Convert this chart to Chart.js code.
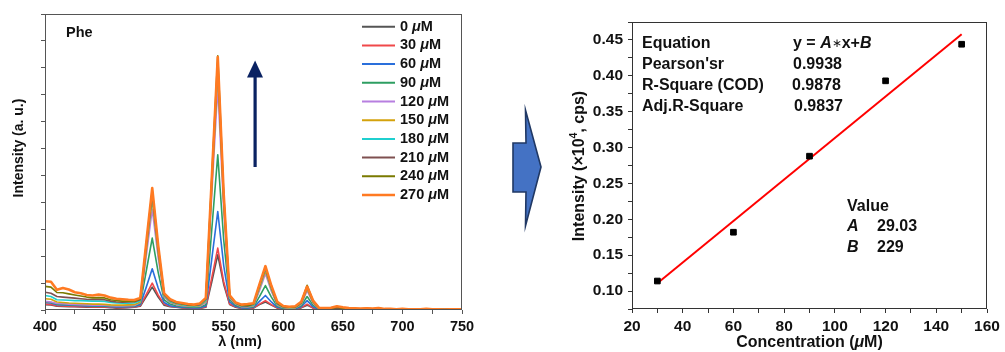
<!DOCTYPE html>
<html><head><meta charset="utf-8">
<script src="https://cdn.jsdelivr.net/npm/chart.js@4"></script>
<style>
html,body{margin:0;padding:0;background:#fff;width:1005px;height:352px;overflow:hidden}
#left{position:absolute;left:0;top:0;width:480px;height:352px}
#right{position:absolute;left:540px;top:0;width:465px;height:352px}
#blk{position:absolute;left:500px;top:100px}
</style></head><body>
<div id="left"><canvas id="c1"></canvas></div>
<canvas id="blk" width="50" height="140"></canvas>
<div id="right"><canvas id="c2"></canvas></div>
<script>
// ---------- DATA: left spectra ----------
const wavelengths = [400,405,410,415,420,425,430,435,440,445,450,455,460,465,470,475,480,
 485,490,495,500,505,510,515,520,525,530,535,540,545,550,555,560,565,570,575,580,585,590,595,600,
 605,610,615,620,625,630,635,640,645,650,655,660,665,670,675,680,685,690,695,700,705,710,715,720,
 725,730,735,740,745,750];
const concLabels = ['0','30','60','90','120','150','180','210','240','270'];
const s0 = [0.20,0.19,0.14,0.13,0.12,0.12,0.11,0.10,0.10,0.11,0.10,0.09,0.07,0.08,0.09,0.10,0.14,
 0.50,0.85,0.48,0.18,0.12,0.10,0.08,0.07,0.06,0.06,
 0.10,1.05,2.05,0.95,0.20,0.10,
 0.06,0.05,0.07,0.20,0.30,0.18,0.07,0.04,
 0.03,0.03,0.08,0.18,0.07,0.02,
 0.02,0.02,0.03,0.02,0.02,0.02,0.02,0.02,0.02,0.02,0.01,0.02,0.02,0.01,0.02,0.01,0.01,0.02,0.01,0.01,0.01,0.01,0.01,0.01];
const s30 = [0.22,0.21,0.16,0.15,0.14,0.13,0.12,0.12,0.11,0.12,0.11,0.10,0.09,0.09,0.10,0.11,0.16,
 0.58,1.00,0.55,0.22,0.14,0.11,0.09,0.08,0.07,0.07,
 0.12,1.20,2.30,1.05,0.22,0.12,
 0.07,0.06,0.08,0.22,0.35,0.20,0.08,0.05,
 0.04,0.04,0.09,0.22,0.08,0.03,
 0.03,0.02,0.03,0.03,0.02,0.02,0.03,0.02,0.02,0.02,0.02,0.02,0.02,0.01,0.02,0.02,0.01,0.02,0.01,0.02,0.01,0.01,0.02,0.01];
const s60 = [0.28,0.26,0.20,0.19,0.18,0.17,0.16,0.15,0.14,0.15,0.14,0.12,0.11,0.11,0.12,0.13,0.20,
 0.85,1.53,0.82,0.28,0.16,0.12,0.10,0.09,0.08,0.08,
 0.15,1.90,3.66,1.65,0.30,0.14,
 0.08,0.07,0.10,0.32,0.54,0.30,0.10,0.06,
 0.05,0.05,0.12,0.35,0.12,0.03,
 0.03,0.03,0.04,0.03,0.03,0.02,0.03,0.02,0.02,0.03,0.02,0.02,0.02,0.02,0.02,0.02,0.01,0.02,0.02,0.01,0.02,0.01,0.01,0.02];
const s90 = [0.30,0.28,0.22,0.21,0.20,0.19,0.18,0.17,0.16,0.17,0.16,0.14,0.13,0.13,0.14,0.15,0.24,
 1.45,2.67,1.40,0.38,0.22,0.16,0.13,0.11,0.10,0.11,
 0.20,3.00,5.77,2.60,0.38,0.18,
 0.10,0.09,0.12,0.50,0.91,0.48,0.14,0.07,
 0.06,0.07,0.16,0.50,0.18,0.04,
 0.03,0.04,0.05,0.04,0.03,0.03,0.03,0.03,0.02,0.03,0.03,0.02,0.02,0.02,0.02,0.02,0.02,0.02,0.01,0.02,0.02,0.02,0.01,0.02];
const s120 = [0.32,0.30,0.24,0.23,0.22,0.21,0.20,0.19,0.18,0.19,0.18,0.16,0.15,0.15,0.16,0.17,0.28,
 2.00,3.75,1.95,0.48,0.28,0.20,0.16,0.14,0.13,0.14,
 0.28,4.30,8.30,3.70,0.45,0.22,
 0.12,0.11,0.15,0.72,1.35,0.70,0.18,0.09,
 0.07,0.08,0.20,0.72,0.25,0.05,
 0.04,0.04,0.06,0.05,0.04,0.03,0.03,0.04,0.03,0.03,0.03,0.02,0.03,0.02,0.02,0.03,0.02,0.02,0.02,0.02,0.02,0.02,0.02,0.02];
const s150 = [0.42,0.40,0.30,0.28,0.26,0.25,0.24,0.23,0.22,0.22,0.21,0.19,0.18,0.18,0.19,0.20,0.30,
 2.20,4.10,2.10,0.52,0.30,0.22,0.18,0.16,0.14,0.16,
 0.32,4.60,8.90,4.00,0.48,0.24,
 0.14,0.13,0.17,0.80,1.45,0.76,0.20,0.10,
 0.08,0.09,0.22,0.78,0.27,0.06,
 0.04,0.05,0.07,0.05,0.04,0.04,0.03,0.04,0.03,0.04,0.03,0.03,0.03,0.02,0.03,0.03,0.02,0.03,0.02,0.02,0.02,0.02,0.02,0.02];
const s180 = [0.54,0.50,0.38,0.37,0.36,0.35,0.35,0.34,0.33,0.33,0.32,0.28,0.26,0.25,0.25,0.26,0.34,
 2.30,4.25,2.20,0.55,0.32,0.24,0.20,0.17,0.15,0.18,
 0.36,4.70,9.10,4.10,0.50,0.25,
 0.15,0.14,0.19,0.85,1.52,0.80,0.22,0.11,
 0.09,0.10,0.24,0.82,0.30,0.06,
 0.05,0.05,0.07,0.06,0.05,0.04,0.04,0.04,0.04,0.04,0.03,0.03,0.03,0.03,0.03,0.03,0.02,0.03,0.02,0.02,0.02,0.03,0.02,0.02];
const s210 = [0.66,0.62,0.50,0.48,0.46,0.44,0.42,0.40,0.39,0.39,0.38,0.33,0.30,0.29,0.30,0.31,0.38,
 2.35,4.35,2.25,0.57,0.35,0.26,0.22,0.19,0.17,0.20,
 0.40,4.80,9.20,4.15,0.52,0.26,
 0.16,0.15,0.21,0.90,1.55,0.84,0.24,0.12,
 0.10,0.11,0.26,0.85,0.32,0.07,
 0.05,0.06,0.08,0.06,0.05,0.04,0.04,0.05,0.04,0.05,0.04,0.03,0.03,0.03,0.03,0.03,0.03,0.03,0.02,0.03,0.02,0.03,0.02,0.02];
const s240 = [0.88,0.85,0.65,0.64,0.60,0.56,0.52,0.48,0.45,0.46,0.45,0.38,0.35,0.33,0.33,0.32,0.42,
 2.45,4.45,2.35,0.60,0.38,0.28,0.24,0.20,0.18,0.22,
 0.43,4.95,9.45,4.30,0.54,0.27,
 0.18,0.17,0.23,0.93,1.60,0.87,0.27,0.13,
 0.11,0.12,0.28,0.92,0.34,0.07,
 0.06,0.06,0.10,0.07,0.05,0.05,0.04,0.05,0.04,0.06,0.04,0.03,0.03,0.03,0.03,0.03,0.03,0.03,0.02,0.03,0.02,0.03,0.02,0.03];
const s270 = [1.07,1.05,0.75,0.82,0.76,0.66,0.62,0.56,0.54,0.57,0.54,0.46,0.42,0.40,0.38,0.37,0.45,
 2.50,4.53,2.40,0.62,0.40,0.30,0.26,0.22,0.20,0.24,
 0.45,4.90,9.40,4.30,0.55,0.28,
 0.20,0.22,0.25,0.95,1.63,0.90,0.30,0.15,
 0.12,0.14,0.30,0.87,0.35,0.08,
 0.07,0.08,0.14,0.10,0.07,0.06,0.05,0.06,0.05,0.07,0.04,0.04,0.03,0.04,0.03,0.03,0.03,0.04,0.03,0.03,0.02,0.03,0.03,0.03];
const spectra = [s0,s30,s60,s90,s120,s150,s180,s210,s240,s270];

// ---------- DATA: right calibration ----------
const concX = [30,60,90,120,150];
const intensityY = [0.114,0.182,0.288,0.393,0.444];
const fitX = [30,150];
const fitY = [0.111,0.458];
const yTicksRight = [0.10,0.15,0.20,0.25,0.30,0.35,0.40,0.45];
const xTicksRight = [20,40,60,80,100,120,140,160];
const xTicksLeft = [400,450,500,550,600,650,700,750];

spectra.forEach((s,i)=>{ if(s.length!==wavelengths.length) throw new Error('length mismatch series '+i+': '+s.length); });

// ---------- styles ----------
const colors = ['#555555','#F0484A','#2A6FDB','#2E9E62','#B77FE0','#D4A20C','#1FCFCF','#7F5050','#7A7A00','#FF7A22'];
const FF = '"Liberation Sans", Arial, Helvetica, sans-serif';
const B = s => `bold ${s}px ${FF}`;
const BI = s => `italic bold ${s}px ${FF}`;
const TXT = '#111';

function drawRich(ctx, parts, x, y, align){
  let w = 0;
  for (const p of parts){ ctx.font = p.f; w += ctx.measureText(p.t).width; }
  let cx = align === 'center' ? x - w/2 : x;
  for (const p of parts){ ctx.font = p.f; ctx.fillText(p.t, cx, y + (p.dy||0)); cx += ctx.measureText(p.t).width; }
}
function frameRect(ctx, a, color){
  ctx.save(); ctx.strokeStyle = color; ctx.lineWidth = 1;
  const l = Math.round(a.left)+0.5, t = Math.round(a.top)+0.5, r = Math.round(a.right)-0.5, b = Math.round(a.bottom)-0.5;
  ctx.strokeRect(l, t, r-l, b-t); ctx.restore();
}

Chart.defaults.font.family = FF;
Chart.defaults.color = TXT;

// ---------- LEFT CHART ----------
const leftPlugin = {
  id: 'leftDeco',
  afterDraw(chart){
    const ctx = chart.ctx, a = chart.chartArea;
    frameRect(ctx, a, '#555');
    ctx.save();
    ctx.fillStyle = TXT; ctx.textBaseline = 'middle'; ctx.textAlign = 'left';
    ctx.font = B(14.5); ctx.fillText('Phe', 66, 33);
    // legend
    chart.data.datasets.forEach((ds, i) => {
      const y = 26.7 + i*18.7;
      ctx.strokeStyle = ds.borderColor; ctx.lineWidth = i===9 ? 2.5 : 2;
      ctx.beginPath(); ctx.moveTo(362, y); ctx.lineTo(395, y); ctx.stroke();
      ctx.fillStyle = TXT;
      drawRich(ctx, [{t: ds.label + ' ', f: B(14.5)}, {t:'\u03bc', f: BI(14.5)}, {t:'M', f: B(14.5)}], 400, y, 'left');
    });
    // arrow
    ctx.fillStyle = '#0A2262'; ctx.strokeStyle = '#0A2262';
    ctx.fillRect(253.5, 76, 3.2, 91);
    ctx.beginPath(); ctx.moveTo(247, 77.5); ctx.lineTo(263, 77.5); ctx.lineTo(255.1, 60.5); ctx.closePath(); ctx.fill();
    // axis titles
    ctx.fillStyle = TXT;
    ctx.textAlign = 'left';
    drawRich(ctx, [{t:'\u03bb (nm)', f: B(14.5)}], 240, 342, 'center');
    ctx.translate(19, 148); ctx.rotate(-Math.PI/2);
    drawRich(ctx, [{t:'Intensity (a. u.)', f: B(14)}], 0, 0, 'center');
    ctx.restore();
  }
};

new Chart(document.getElementById('c1'), {
  type: 'line',
  data: {
    datasets: spectra.map((s, i) => ({
      label: concLabels[i],
      data: wavelengths.map((w, k) => ({x: w, y: s[k]})),
      borderColor: colors[i],
      borderWidth: i===9 ? 2.6 : 1.6,
      pointRadius: 0, tension: 0, fill: false,
      borderJoinStyle: 'round',
      order: 10 - i
    }))
  },
  options: {
    responsive: true, maintainAspectRatio: false, animation: false, devicePixelRatio: 1,
    layout: {padding: {left: 0, top: 14, right: 18, bottom: 0}},
    plugins: {legend: {display: false}, tooltip: {enabled: false}},
    scales: {
      x: {
        type: 'linear', min: 400, max: 750,
        border: {display: false},
        grid: {drawOnChartArea: false, drawTicks: true, tickLength: 4, color: '#555'},
        ticks: {stepSize: 25, autoSkip: false, maxRotation: 0, padding: 4,
          font: {size: 14.5, weight: 'bold'}, color: TXT,
          callback: v => xTicksLeft.includes(v) ? String(v) : ''},
        afterFit: s => { s.height = 42; }
      },
      y: {
        min: 0, max: 11,
        border: {display: false},
        grid: {drawOnChartArea: false, drawTicks: true, tickLength: 4, color: '#555'},
        ticks: {stepSize: 1, callback: () => '', padding: 0},
        afterFit: s => { s.width = 45; }
      }
    }
  },
  plugins: [leftPlugin]
});

// ---------- BLOCK ARROW ----------
(function(){
  const c = document.getElementById('blk').getContext('2d');
  // canvas origin at page (500,100)
  c.beginPath();
  c.moveTo(13, 43); c.lineTo(26, 43); c.lineTo(25.5, 10); c.lineTo(41, 67);
  c.lineTo(25.5, 126); c.lineTo(26, 92); c.lineTo(13, 92); c.closePath();
  c.fillStyle = '#4472C4'; c.fill();
  c.strokeStyle = '#203864'; c.lineWidth = 1.6; c.lineJoin = 'miter'; c.stroke();
})();

// ---------- RIGHT CHART ----------
const rightPlugin = {
  id: 'rightDeco',
  afterDraw(chart){
    const ctx = chart.ctx, a = chart.chartArea;
    frameRect(ctx, a, '#333');
    ctx.save();
    ctx.fillStyle = TXT; ctx.textBaseline = 'middle'; ctx.textAlign = 'left';
    const ox = -540; // page -> canvas offset
    const f = B(16), fi = BI(16);
    drawRich(ctx, [{t:'Equation', f}], 642+ox, 44, 'left');
    drawRich(ctx, [{t:"Pearson'sr", f}], 642+ox, 65, 'left');
    drawRich(ctx, [{t:'R-Square (COD)', f}], 642+ox, 86, 'left');
    drawRich(ctx, [{t:'Adj.R-Square', f}], 642+ox, 107, 'left');
    drawRich(ctx, [{t:'y = ', f}, {t:'A', f: fi}, {t:'\u2217', f: `12px ${FF}`}, {t:'x+', f}, {t:'B', f: fi}], 793+ox, 44, 'left');
    drawRich(ctx, [{t:'0.9938', f}], 793+ox, 65, 'left');
    drawRich(ctx, [{t:'0.9878', f}], 792+ox, 86, 'left');
    drawRich(ctx, [{t:'0.9837', f}], 794+ox, 107, 'left');
    drawRich(ctx, [{t:'Value', f}], 847+ox, 207, 'left');
    drawRich(ctx, [{t:'A', f: fi}], 847+ox, 227, 'left');
    drawRich(ctx, [{t:'29.03', f}], 877+ox, 227, 'left');
    drawRich(ctx, [{t:'B', f: fi}], 847+ox, 248, 'left');
    drawRich(ctx, [{t:'229', f}], 877+ox, 248, 'left');
    // axis titles
    drawRich(ctx, [{t:'Concentration (', f}, {t:'\u03bc', f: fi}, {t:'M)', f}], 809.5+ox, 342.5, 'center');
    ctx.translate(580+ox, 166); ctx.rotate(-Math.PI/2);
    drawRich(ctx, [{t:'Intensity (\u00d710', f}, {t:'4', f: B(10.5), dy: -6}, {t:', cps)', f}], 0, 0, 'center');
    ctx.restore();
  }
};

new Chart(document.getElementById('c2'), {
  type: 'scatter',
  data: {
    datasets: [
      {
        type: 'scatter', label: 'data',
        data: concX.map((x, i) => ({x, y: intensityY[i]})),
        pointStyle: 'rect', pointRadius: 4, borderWidth: 1,
        backgroundColor: '#000', borderColor: '#000', order: 0
      },
      {
        type: 'line', label: 'fit',
        data: fitX.map((x, i) => ({x, y: fitY[i]})),
        borderColor: '#FF0000', borderWidth: 2, pointRadius: 0, tension: 0, fill: false, order: 1
      }
    ]
  },
  options: {
    responsive: true, maintainAspectRatio: false, animation: false, devicePixelRatio: 1,
    layout: {padding: {left: 0, top: 22, right: 18, bottom: 0}},
    plugins: {legend: {display: false}, tooltip: {enabled: false}},
    scales: {
      x: {
        type: 'linear', min: 20, max: 160,
        border: {display: false},
        grid: {drawOnChartArea: false, drawTicks: true, tickLength: 4, color: '#333'},
        ticks: {stepSize: 10, autoSkip: false, maxRotation: 0, padding: 4,
          font: {size: 15.5, weight: 'bold'}, color: TXT,
          callback: v => xTicksRight.includes(v) ? String(v) : ''},
        afterFit: s => { s.height = 43; }
      },
      y: {
        type: 'linear', min: 0.075, max: 0.475,
        border: {display: false},
        grid: {drawOnChartArea: false, drawTicks: true, tickLength: 4, color: '#333'},
        ticks: {stepSize: 0.025, autoSkip: false, padding: 5,
          font: {size: 15.5, weight: 'bold'}, color: TXT,
          callback: v => yTicksRight.some(t => Math.abs(t - v) < 1e-6) ? v.toFixed(2) : ''},
        afterFit: s => { s.width = 92; }
      }
    }
  },
  plugins: [rightPlugin]
});
</script>
</body></html>
